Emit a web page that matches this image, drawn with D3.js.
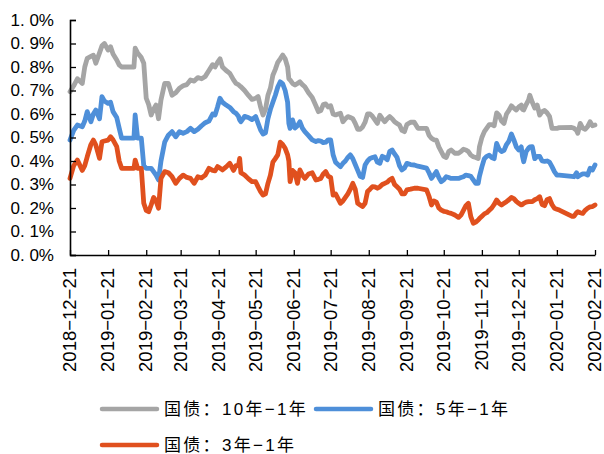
<!DOCTYPE html>
<html>
<head>
<meta charset="utf-8">
<script src="https://cdn.jsdelivr.net/npm/d3@7"></script>
<style>
body { margin: 0; background: #fff; }
svg text { font-family: "Liberation Sans", Arial, "Noto Sans CJK SC", sans-serif; fill: #000; }
</style>
</head>
<body>
<div id="chart"></div>
<script>
// trading dates (roughly every 2-3 days)
var dates = [
  "2018-12-21","2018-12-24","2018-12-27","2018-12-31","2019-01-02","2019-01-04","2019-01-07","2019-01-09","2019-01-11","2019-01-14",
  "2019-01-16","2019-01-18","2019-01-21","2019-01-23","2019-01-25","2019-01-28","2019-01-30","2019-02-01","2019-02-11","2019-02-12",
  "2019-02-14","2019-02-17","2019-02-19","2019-02-21","2019-02-23","2019-02-25","2019-02-27","2019-03-01","2019-03-03","2019-03-05",
  "2019-03-08","2019-03-11","2019-03-14","2019-03-17","2019-03-20","2019-03-23","2019-03-26","2019-03-29","2019-04-01","2019-04-04",
  "2019-04-07","2019-04-10","2019-04-13","2019-04-16","2019-04-18","2019-04-20","2019-04-22","2019-04-24","2019-04-27","2019-04-30",
  "2019-05-03","2019-05-05","2019-05-07","2019-05-08","2019-05-09","2019-05-12","2019-05-15","2019-05-18","2019-05-21","2019-05-23",
  "2019-05-25","2019-05-27","2019-05-29","2019-05-31","2019-06-02","2019-06-04","2019-06-06","2019-06-08","2019-06-10","2019-06-12",
  "2019-06-14","2019-06-16","2019-06-17","2019-06-18","2019-06-20","2019-06-22","2019-06-24","2019-06-26","2019-06-28","2019-06-30",
  "2019-07-03","2019-07-06","2019-07-09","2019-07-11","2019-07-13","2019-07-15","2019-07-17","2019-07-19","2019-07-21","2019-07-23",
  "2019-07-25","2019-07-27","2019-07-29","2019-07-31","2019-08-02","2019-08-04","2019-08-06","2019-08-08","2019-08-10","2019-08-12",
  "2019-08-14","2019-08-16","2019-08-18","2019-08-20","2019-08-22","2019-08-24","2019-08-26","2019-08-28","2019-08-30","2019-09-01",
  "2019-09-03","2019-09-05","2019-09-07","2019-09-09","2019-09-11","2019-09-13","2019-09-15","2019-09-17","2019-09-19","2019-09-21",
  "2019-09-24","2019-09-27","2019-09-30","2019-10-07","2019-10-09","2019-10-11","2019-10-13","2019-10-15","2019-10-17","2019-10-19",
  "2019-10-21","2019-10-23","2019-10-25","2019-10-27","2019-10-30","2019-11-02","2019-11-04","2019-11-06","2019-11-08","2019-11-10",
  "2019-11-12","2019-11-14","2019-11-16","2019-11-18","2019-11-19","2019-11-21","2019-11-23","2019-11-25","2019-11-27","2019-11-29",
  "2019-12-01","2019-12-03","2019-12-05","2019-12-07","2019-12-09","2019-12-11","2019-12-13","2019-12-15","2019-12-17","2019-12-19",
  "2019-12-21","2019-12-23","2019-12-24","2019-12-25","2019-12-27","2019-12-29","2019-12-30","2020-01-01","2020-01-03","2020-01-05",
  "2020-01-07","2020-01-09","2020-01-11","2020-01-13","2020-01-15","2020-01-17","2020-01-19","2020-01-21","2020-01-23","2020-02-02",
  "2020-02-04","2020-02-06","2020-02-07","2020-02-09","2020-02-11","2020-02-13","2020-02-15","2020-02-17","2020-02-19","2020-02-21"
];

// 10y - 1y spread, %
var spread10 = [
  .695,.72,.75,.73,.80,.837,.845,.85,.816,.86, .89,.90,.872,.886,.855,.83,.809,.80,.80,.88,
  .86,.84,.816,.667,.64,.596,.62,.638,.58,.66, .73,.73,.68,.69,.71,.72,.725,.745,.74,.755,
  .75,.76,.785,.81,.80,.82,.835,.80,.785,.773, .745,.73,.725,.72,.716,.70,.68,.662,.667,.674,
  .63,.596,.62,.68,.71,.765,.79,.82,.835,.851, .835,.80,.75,.745,.73,.723,.73,.737,.725,.716,
  .69,.67,.635,.61,.615,.64,.643,.63,.635,.60, .596,.60,.603,.567,.58,.589,.585,.58,.56,.535,
  .535,.545,.565,.60,.60,.59,.575,.56,.595,.58, .567,.58,.589,.58,.567,.56,.553,.53,.525,.555,
  .565,.565,.539,.539,.51,.497,.49,.489,.46,.44, .42,.415,.44,.447,.433,.433,.44,.45,.447,.44,
  .425,.418,.415,.411,.46,.50,.525,.54,.555,.555, .55,.605,.595,.57,.56,.60,.615,.635,.625,.617,
  .63,.638,.62,.617,.64,.66,.68,.65,.625,.638, .595,.61,.615,.605,.59,.539,.539,.539,.542,.543,
  .539,.53,.518,.56,.54,.535,.546,.567,.55,.553
];

// 5y - 1y spread, %
var spread5 = [
  .489,.53,.553,.546,.57,.61,.567,.60,.617,.58, .674,.655,.645,.65,.61,.585,.54,.497,.497,.596,
  .497,.497,.38,.369,.369,.369,.355,.34,.319,.40, .48,.51,.525,.503,.525,.518,.525,.539,.525,.535,
  .55,.563,.57,.60,.596,.63,.667,.65,.638,.628, .61,.603,.59,.575,.567,.59,.585,.576,.589,.56,
  .532,.515,.52,.58,.62,.65,.68,.715,.737,.728, .70,.65,.56,.539,.575,.54,.55,.567,.54,.525,
  .508,.49,.483,.487,.485,.478,.48,.49,.49,.426, .395,.385,.376,.39,.40,.415,.426,.41,.385,.36,
  .335,.33,.383,.40,.411,.415,.418,.395,.39,.42, .415,.405,.44,.447,.43,.415,.38,.362,.37,.39,
  .385,.383,.378,.37,.35,.326,.34,.355,.33,.312, .32,.333,.33,.326,.326,.326,.33,.333,.34,.338,
  .335,.32,.305,.305,.335,.375,.41,.42,.425,.415, .41,.475,.45,.44,.445,.47,.485,.515,.49,.46,
  .447,.46,.42,.397,.44,.455,.46,.461,.41,.42, .42,.40,.398,.40,.395,.376,.355,.34,.34,.335,
  .333,.35,.333,.34,.345,.345,.34,.369,.362,.383
];

// 3y - 1y spread, %
var spread3 = [
  .326,.38,.404,.36,.38,.418,.47,.489,.468,.411, .482,.485,.489,.503,.49,.461,.40,.369,.369,.404,
  .369,.369,.22,.19,.184,.213,.245,.23,.199,.326, .355,.35,.333,.305,.326,.34,.33,.326,.305,.333,
  .328,.34,.369,.36,.358,.376,.37,.362,.375,.39, .36,.38,.38,.411,.35,.34,.325,.312,.312,.29,
  .27,.255,.26,.305,.34,.395,.41,.426,.48,.47, .454,.426,.40,.312,.36,.35,.305,.362,.34,.326,
  .345,.35,.319,.322,.326,.345,.355,.335,.33,.255, .26,.24,.22,.23,.245,.26,.28,.305,.28,.22,
  .213,.206,.22,.27,.28,.291,.29,.284,.29,.30, .305,.31,.32,.326,.30,.29,.28,.26,.26,.277,
  .28,.284,.284,.277,.25,.213,.23,.225,.20,.191, .186,.184,.18,.177,.17,.16,.17,.19,.21,.22,
  .163,.135,.14,.149,.155,.165,.175,.18,.19,.20, .215,.234,.22,.213,.22,.227,.235,.245,.24,.228,
  .22,.213,.215,.22,.225,.227,.227,.227,.235,.24, .248,.215,.21,.235,.24,.215,.199,.195,.191,.165,
  .165,.18,.184,.18,.177,.19,.199,.205,.206,.213
];

var tickDates = ["2018-12-21","2019-01-21","2019-02-21","2019-03-21","2019-04-21","2019-05-21","2019-06-21",
  "2019-07-21","2019-08-21","2019-09-21","2019-10-21","2019-11-21","2019-12-21","2020-01-21","2020-02-21"];
var yTicks = [0, 0.1, 0.2, 0.3, 0.4, 0.5, 0.6, 0.7, 0.8, 0.9, 1.0];

var seriesNames = ["国债：10年−1年", "国债：5年−1年", "国债：3年−1年"];
var seriesColors = ["#a5a5a5", "#4e8fd9", "#e0501e"];

var svgwidth = 604, svgheight = 454;
var margin = { top: 20, right: 9, bottom: 199, left: 70 };
var width = svgwidth - margin.left - margin.right;
var height = svgheight - margin.top - margin.bottom;

var parse = d3.timeParse("%Y-%m-%d");

var svg = d3.select("#chart").append("svg")
  .attr("width", svgwidth)
  .attr("height", svgheight);

var chart = svg.append("g").attr("transform", `translate(${margin.left},${margin.top})`);

var x = d3.scaleTime()
  .domain([parse(tickDates[0]), parse(tickDates[tickDates.length - 1])])
  .range([0, width]);

var y = d3.scaleLinear().domain([0, 1.0]).range([height, 0]);

var allSeries = [spread10, spread5, spread3];

var line = d3.line()
  .x(function(d) { return x(d.date); })
  .y(function(d) { return y(d.value); });

allSeries.forEach(function(vals, i) {
  var pts = vals.map(function(v, j) { return { date: parse(dates[j]), value: v }; });
  chart.append("path")
    .datum(pts)
    .attr("fill", "none")
    .attr("stroke", seriesColors[i])
    .attr("stroke-width", 4.8)
    .attr("stroke-linejoin", "round")
    .attr("stroke-linecap", "round")
    .attr("d", line);
});

// y axis, ticks pointing inside
var yAxis = chart.append("g")
  .call(d3.axisLeft(y)
    .tickValues(yTicks)
    .tickSize(-6)
    .tickPadding(16)
    .tickFormat(function(d) { return d3.format(".1f")(d).replace(".", ". ") + "%"; }));
yAxis.select(".domain").attr("stroke", "#000").attr("stroke-width", 1.6);
yAxis.selectAll(".tick line").attr("stroke", "#000").attr("stroke-width", 1.3);
yAxis.selectAll("text").style("font-size", "17px");

// x axis
var xAxis = chart.append("g")
  .attr("transform", `translate(0,${height})`)
  .call(d3.axisBottom(x)
    .tickValues(tickDates.map(parse))
    .tickSize(-5)
    .tickSizeOuter(0)
    .tickFormat(d3.timeFormat("%Y−%m−%d")));
xAxis.select(".domain").attr("stroke", "#000").attr("stroke-width", 1.6);
xAxis.selectAll(".tick line").attr("stroke", "#000").attr("stroke-width", 1.3);
xAxis.selectAll("text")
  .style("font-size", "18.5px")
  .attr("transform", "rotate(-90)")
  .attr("text-anchor", "end")
  .attr("x", -13)
  .attr("y", 0)
  .attr("dy", "0.3em");

// legend
var legendPos = [[102, 409], [316, 409], [102, 445]];
var legend = svg.append("g");
seriesNames.forEach(function(name, i) {
  var p = legendPos[i];
  legend.append("line")
    .attr("x1", p[0]).attr("x2", p[0] + 55)
    .attr("y1", p[1]).attr("y2", p[1])
    .attr("stroke", seriesColors[i])
    .attr("stroke-width", 4.5)
    .attr("stroke-linecap", "round");
  legend.append("text")
    .attr("x", p[0] + 62)
    .attr("y", p[1])
    .attr("dy", "0.36em")
    .style("font-size", "17px")
    .style("letter-spacing", "2.3px")
    .text(name);
});
</script>
</body>
</html>
